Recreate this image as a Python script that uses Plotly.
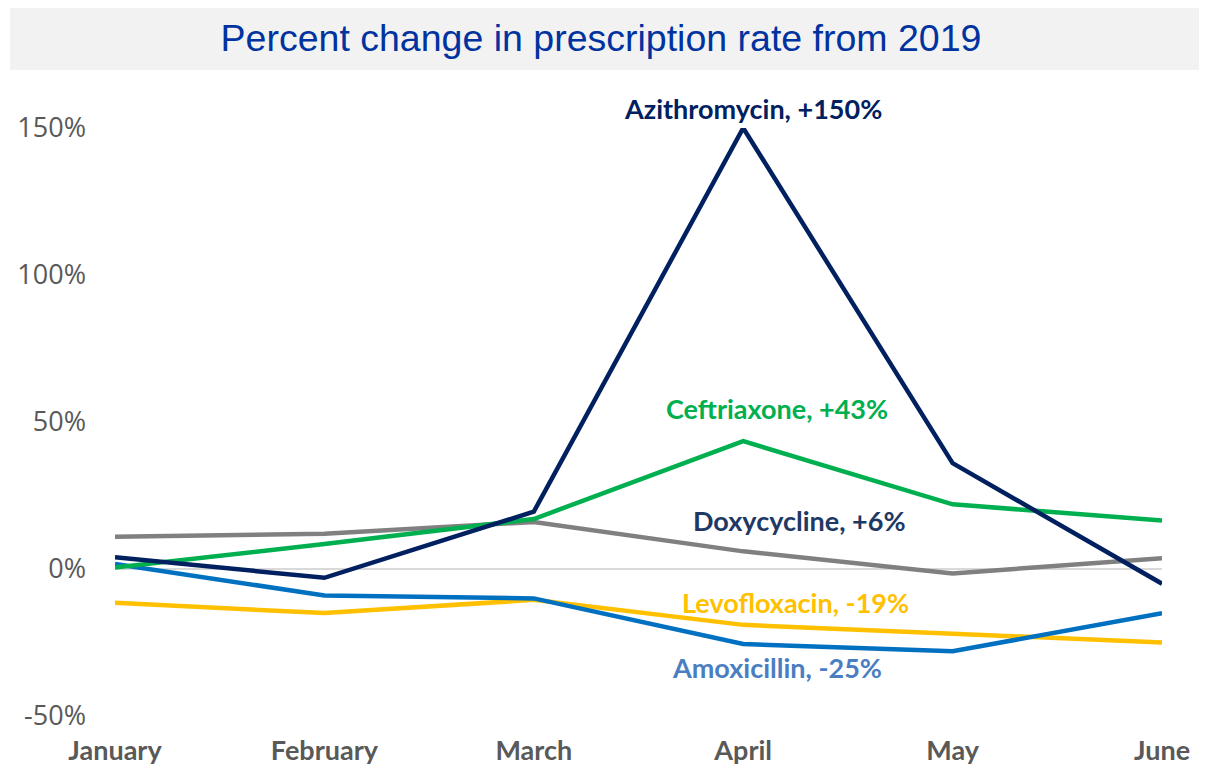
import plotly.graph_objects as go

months = ["January", "February", "March", "April", "May", "June"]

azithromycin = [4, -3, 19.5, 150, 36, -5]
ceftriaxone = [0.5, 8.5, 17, 43.5, 22, 16.5]
doxycycline = [11, 12, 16, 6, -1.5, 3.7]
levofloxacin = [-11.5, -15, -10.5, -19, -22, -25]
amoxicillin = [1.7, -9, -10, -25.5, -28, -15]

y_ticks = [-50, 0, 50, 100, 150]
y_tick_text = ["-50%", "0%", "50%", "100%", "150%"]

series = [
    ("Levofloxacin", levofloxacin, "#FFC000"),
    ("Amoxicillin", amoxicillin, "#0070C0"),
    ("Doxycycline", doxycycline, "#808080"),
    ("Ceftriaxone", ceftriaxone, "#00B050"),
    ("Azithromycin", azithromycin, "#002060"),
]

# label text, value at April, colour, x/y shift in px
labels = [
    ("Azithromycin, +150%", azithromycin[3], "#002060", 10, 20),
    ("Ceftriaxone, +43%", ceftriaxone[3], "#00B050", 34, 33),
    ("Doxycycline, +6%", doxycycline[3], "#203864", 56, 31),
    ("Levofloxacin, -19%", levofloxacin[3], "#FFC000", 52, 22),
    ("Amoxicillin, -25%", amoxicillin[3], "#4A7EC2", 34, -24),
]

fig = go.Figure()
for name, vals, color in series:
    fig.add_trace(go.Scatter(
        x=months, y=vals, mode="lines", name=name,
        line=dict(color=color, width=4.5),
        cliponaxis=False,
    ))

for text, val, color, dx, dy in labels:
    fig.add_annotation(
        x="April", y=val, text=text, showarrow=False,
        xshift=dx, yshift=dy,
        font=dict(family="Lato", size=27, color=color, weight="bold"),
    )

# grey title band
fig.add_shape(
    type="rect", xref="paper", yref="paper",
    x0=-0.1003, x1=1.06, y0=1.0986, y1=1.22,
    fillcolor="#F2F2F2", line=dict(width=0), layer="below",
)

# page body adds 8px at top/left, so offset the figure accordingly
fig.update_layout(
    width=1199, height=761,
    margin=dict(l=107, r=45, t=120, b=53),
    plot_bgcolor="white", paper_bgcolor="white",
    showlegend=False,
    title=dict(
        text="Percent change in prescription rate from 2019",
        x=593 / 1199, xanchor="center",
        y=1 - 30 / 761, yanchor="middle",
        font=dict(family="Liberation Sans", size=37.5, color="#0033A0"),
    ),
    xaxis=dict(
        range=[0, 5], showgrid=False, showline=False, zeroline=False,
        automargin=False,
        tickfont=dict(family="Lato", size=27, color="#595959", weight="bold"),
        ticklabelstandoff=16,
    ),
    yaxis=dict(
        range=[-50, 150], tickvals=y_ticks, ticktext=y_tick_text,
        showgrid=False, showline=False, automargin=False,
        zeroline=True, zerolinecolor="#D9D9D9", zerolinewidth=1.5,
        tickfont=dict(family="Open Sans", size=27, color="#595959"),
        ticklabelstandoff=28,
    ),
)

fig.write_html("out.html")
